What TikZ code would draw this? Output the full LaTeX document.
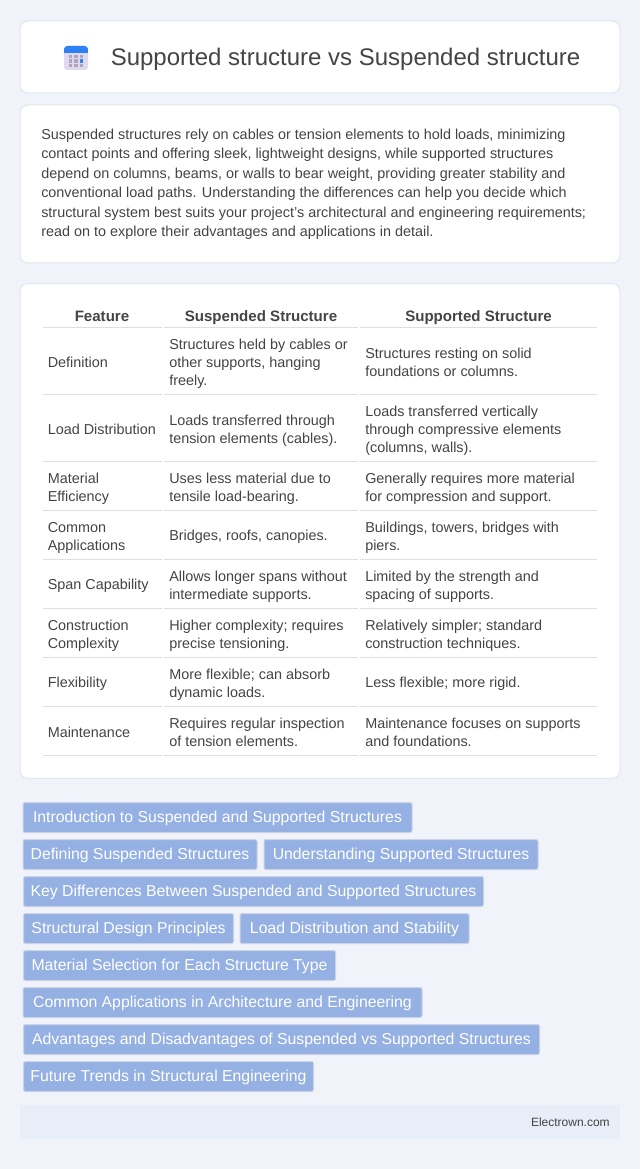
\documentclass[tikz,border=0pt]{standalone}
\usepackage{fontspec}
\setmainfont{Liberation Sans}
\usetikzlibrary{positioning}
\definecolor{pagebg}{HTML}{F0F3F9}
\definecolor{cardline}{HTML}{E2E6EF}
\definecolor{rowline}{HTML}{DDDFE4}
\definecolor{inktext}{HTML}{444444}
\definecolor{tagfill}{HTML}{95B0E2}
\definecolor{tagline}{HTML}{CBD3E4}
\definecolor{footfill}{HTML}{E7EEF8}
\definecolor{iconlilac}{HTML}{E0D8EE}
\definecolor{icondot}{HTML}{AFA5C0}
\definecolor{iconblue}{HTML}{2F80F5}
\tikzset{
    card/.style={draw=cardline, fill=white, rounded corners=6, line width=0.75pt},
    bodyline/.style={anchor=base west, inner sep=0, text=inktext, font=\fontsize{10.8}{13.5}\selectfont},
    cellline/.style={anchor=west, inner sep=0, yshift=-1.2pt, text=inktext, font=\fontsize{10.8}{13.5}\selectfont, align=left},
    headcell/.style={anchor=base, inner sep=0, text=inktext, font=\fontsize{11.3}{13}\selectfont\bfseries},
    rowrule/.style={draw=rowline, line width=0.75pt},
    tagbox/.style={draw=tagline, fill=tagfill, rounded corners=1.5, line width=0.75pt, text=white, inner sep=0, minimum height=22.5pt, text height=10pt, text depth=2.6pt, font=\fontsize{11.85}{14}\selectfont},
}
\begin{document}
\begin{tikzpicture}[x=0.75pt, y=-0.75pt]
    \useasboundingbox[fill=pagebg] (0,0) rectangle (640,1169);
    % cards
    \node (titlecard) [card, minimum width=450pt, minimum height=54pt] at (320,57) {};
    \node (introcard) [card, minimum width=450pt, minimum height=118.5pt] at (320,184) {};
    \node (tablecard) [card, minimum width=450pt, minimum height=371pt] at (320,531) {};
    \node (footcard) [fill=footfill, minimum width=450pt, minimum height=25.5pt, inner sep=0] at (320,1122) {};
    % icon
    \node (iconbase) [fill=iconlilac, rounded corners=2.5, minimum size=18pt, inner sep=0] at (76,58) {};
    \fill[iconblue, rounded corners=2.5] (64,46) rectangle (88,53);
    \fill[iconblue] (64,50) rectangle (88,53);
    \foreach \cx in {70.7,76,81.3} \foreach \cy in {56.7,61,65.7}
        \fill[icondot] (\cx-1.7,\cy-1.7) rectangle (\cx+1.7,\cy+1.7);
    \fill[iconblue] (79.6,59.3) rectangle (83,62.7);
    % title
    \node (title) [anchor=base west, inner sep=0, text=inktext, font=\fontsize{18}{20}\selectfont] at (110.5,65.5) {Supported structure vs Suspended structure};
    % intro
    \node (introa) [bodyline] at (41,139.5) {Suspended structures rely on cables or tension elements to hold loads, minimizing};
    \node (introb) [bodyline] at (41,159) {contact points and offering sleek, lightweight designs, while supported structures};
    \node (introc) [bodyline] at (41,178.5) {depend on columns, beams, or walls to bear weight, providing greater stability and};
    \node (introd) [bodyline] at (41,198) {conventional load paths. Understanding the differences can help you decide which};
    \node (introe) [bodyline] at (41,217.5) {structural system best suits your project's architectural and engineering requirements;};
    \node (introf) [bodyline] at (41,237) {read on to explore their advantages and applications in detail.};
    % table head
    \node (headfeat) [headcell] at (102,321.5) {Feature};
    \node (headsusp) [headcell] at (261,321.5) {Suspended Structure};
    \node (headsupp) [headcell] at (478.5,321.5) {Supported Structure};
    % table rules
    \foreach \ry in {327,394,461,510,559,608,657,706,755} {
        \draw[rowrule] (43,\ry) -- (162,\ry);
        \draw[rowrule] (164,\ry) -- (358,\ry);
        \draw[rowrule] (360,\ry) -- (597,\ry);
    }
    % table cells
    \tikzset{every node/.append style={cellline}}
    \node (r1a) at (47.5,361) {Definition};
    \node (r1b) at (169,362) {\begin{tabular}{@{}l@{}}Structures held by cables or\\other supports, hanging\\freely.\end{tabular}};
    \node (r1c) at (365,362) {\begin{tabular}{@{}l@{}}Structures resting on solid\\foundations or columns.\end{tabular}};
    \node (r2a) at (47.5,428) {Load Distribution};
    \node (r2b) at (169,429) {\begin{tabular}{@{}l@{}}Loads transferred through\\tension elements (cables).\end{tabular}};
    \node (r2c) at (365,429) {\begin{tabular}{@{}l@{}}Loads transferred vertically\\through compressive elements\\(columns, walls).\end{tabular}};
    \node (r3a) at (47.5,487) {\begin{tabular}{@{}l@{}}Material\\Efficiency\end{tabular}};
    \node (r3b) at (169,487) {\begin{tabular}{@{}l@{}}Uses less material due to\\tensile load-bearing.\end{tabular}};
    \node (r3c) at (365,487) {\begin{tabular}{@{}l@{}}Generally requires more material\\for compression and support.\end{tabular}};
    \node (r4a) at (47.5,536) {\begin{tabular}{@{}l@{}}Common\\Applications\end{tabular}};
    \node (r4b) at (169,535) {Bridges, roofs, canopies.};
    \node (r4c) at (365,536) {\begin{tabular}{@{}l@{}}Buildings, towers, bridges with\\piers.\end{tabular}};
    \node (r5a) at (47.5,584) {Span Capability};
    \node (r5b) at (169,585) {\begin{tabular}{@{}l@{}}Allows longer spans without\\intermediate supports.\end{tabular}};
    \node (r5c) at (365,585) {\begin{tabular}{@{}l@{}}Limited by the strength and\\spacing of supports.\end{tabular}};
    \node (r6a) at (47.5,634) {\begin{tabular}{@{}l@{}}Construction\\Complexity\end{tabular}};
    \node (r6b) at (169,634) {\begin{tabular}{@{}l@{}}Higher complexity; requires\\precise tensioning.\end{tabular}};
    \node (r6c) at (365,634) {\begin{tabular}{@{}l@{}}Relatively simpler; standard\\construction techniques.\end{tabular}};
    \node (r7a) at (47.5,682) {Flexibility};
    \node (r7b) at (169,683) {\begin{tabular}{@{}l@{}}More flexible; can absorb\\dynamic loads.\end{tabular}};
    \node (r7c) at (365,682) {Less flexible; more rigid.};
    \node (r8a) at (47.5,731) {Maintenance};
    \node (r8b) at (169,732) {\begin{tabular}{@{}l@{}}Requires regular inspection\\of tension elements.\end{tabular}};
    \node (r8c) at (365,732) {\begin{tabular}{@{}l@{}}Maintenance focuses on supports\\and foundations.\end{tabular}};
    \tikzset{every node/.style={}}
    % tags
    \node (taga) [tagbox, minimum width=291.75pt] at (217.5,817.5) {Introduction to Suspended and Supported Structures};
    \node (tagb) [tagbox, minimum width=175.5pt] at (140,854.5) {Defining Suspended Structures};
    \node (tagc) [tagbox, minimum width=205.5pt] at (401,854.5) {Understanding Supported Structures};
    \node (tagd) [tagbox, minimum width=345pt] at (253.5,891.5) {Key Differences Between Suspended and Supported Structures};
    \node (tage) [tagbox, minimum width=157.5pt] at (128.5,928.5) {Structural Design Principles};
    \node (tagf) [tagbox, minimum width=171.75pt] at (354.5,928.5) {Load Distribution and Stability};
    \node (tagg) [tagbox, minimum width=234pt] at (179.5,965.5) {Material Selection for Each Structure Type};
    \node (tagh) [tagbox, minimum width=299.25pt] at (222.5,1002.5) {Common Applications in Architecture and Engineering};
    \node (tagi) [tagbox, minimum width=387pt] at (281.5,1039.5) {Advantages and Disadvantages of Suspended vs Supported Structures};
    \node (tagj) [tagbox, minimum width=217.5pt] at (168.5,1076.5) {Future Trends in Structural Engineering};
    % footer
    \node (footer) [anchor=east, inner sep=0, text=inktext, font=\fontsize{9}{11}\selectfont] at (610,1122) {Electrown.com};
\end{tikzpicture}
\end{document}
